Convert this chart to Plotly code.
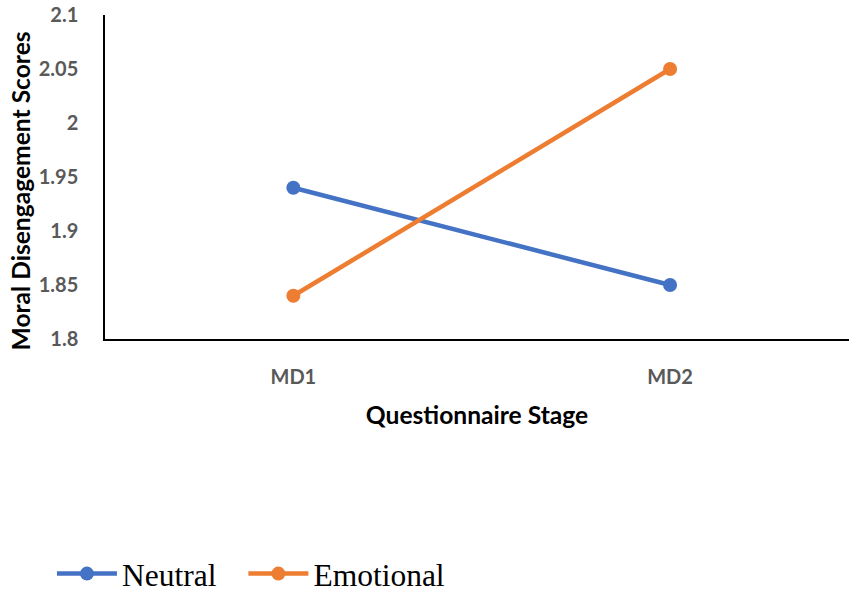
import plotly.graph_objects as go

# Questionnaire stages and mean moral disengagement scores per condition
stages = ["MD1", "MD2"]
neutral = [1.94, 1.85]
emotional = [1.84, 2.05]
y_ticks = [1.8, 1.85, 1.9, 1.95, 2.0, 2.05, 2.1]
y_tick_text = ["1.8", "1.85", "1.9", "1.95", "2", "2.05", "2.1"]

BLUE = "#4472C4"
ORANGE = "#ED7D31"
TICK_FONT = dict(family="Lato", size=20, color="#595959")
TITLE_FONT = dict(family="Lato", size=24.6, color="black")
LEGEND_STYLE = dict(
    orientation="h", xanchor="left", yref="container", y=0.031, yanchor="middle",
    font=dict(family="Liberation Serif", size=31.5, color="black"),
    itemwidth=60, bgcolor="rgba(0,0,0,0)",
)

fig = go.Figure()
fig.add_trace(go.Scatter(
    x=stages, y=neutral, name="Neutral", mode="lines+markers", legend="legend",
    line=dict(color=BLUE, width=4.5), marker=dict(color=BLUE, size=14),
))
fig.add_trace(go.Scatter(
    x=stages, y=emotional, name="Emotional", mode="lines+markers", legend="legend2",
    line=dict(color=ORANGE, width=4.5), marker=dict(color=ORANGE, size=14),
))

fig.update_layout(
    width=849, height=592,
    margin=dict(l=105, r=0, t=15, b=253, autoexpand=False),
    paper_bgcolor="white", plot_bgcolor="white",
    showlegend=True,
    legend=dict(x=-0.0713, **LEGEND_STYLE),
    legend2=dict(x=0.186, **LEGEND_STYLE),
    xaxis=dict(
        type="category", range=[-0.5, 1.475],
        showline=True, linecolor="black", linewidth=2,
        showgrid=False, ticks="", tickfont=TICK_FONT, ticklabelstandoff=19,
        title=dict(text="<b>Questionnaire Stage</b>", font=TITLE_FONT, standoff=20),
    ),
    yaxis=dict(
        range=[1.8, 2.1], tickvals=y_ticks, ticktext=[f"<b>{t}</b>" for t in y_tick_text],
        showline=True, linecolor="black", linewidth=1.5,
        showgrid=False, zeroline=False, ticks="", tickfont=TICK_FONT,
        ticklabelstandoff=21,
    ),
    annotations=[dict(
        text="<b>Moral Disengagement Scores</b>", textangle=-90,
        xref="paper", yref="paper", x=-0.1136, y=0.457,
        xanchor="center", yanchor="middle", showarrow=False, font=TITLE_FONT,
    )],
)
fig.update_xaxes(ticktext=[f"<b>{s}</b>" for s in stages], tickvals=stages)

fig.write_html("out.html")
